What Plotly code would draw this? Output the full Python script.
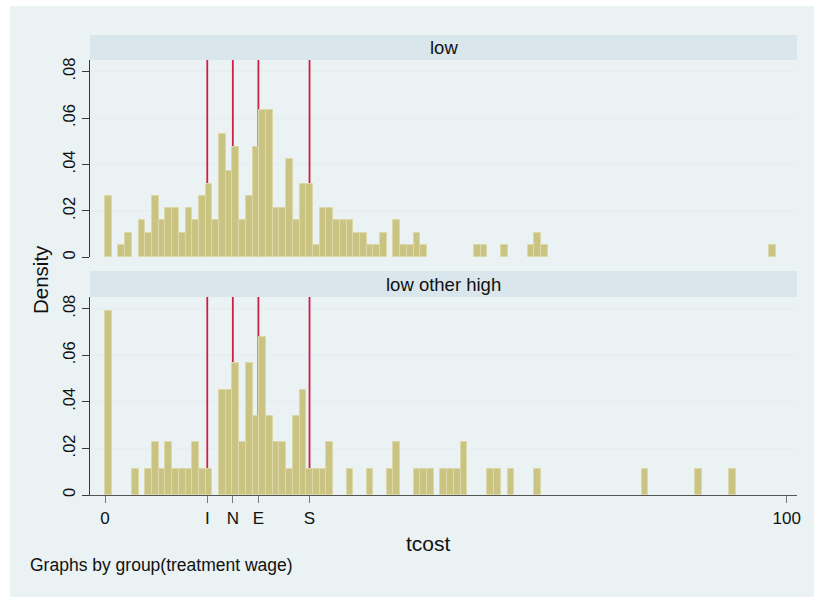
import plotly.graph_objects as go

# Histogram of tcost by treatment-wage group: 100 bins of equal width starting at 0
bin_start = 0.0
bin_width = 0.984

# Observations per bin, group "low"
counts_low = [
    5, 0, 1, 2, 0, 3, 2, 5, 3, 4, 4, 2, 4, 3, 5, 6, 3, 10, 7, 9,
    3, 5, 9, 12, 12, 4, 4, 8, 3, 6, 6, 1, 4, 4, 3, 3, 3, 2, 2, 1,
    1, 2, 0, 3, 1, 1, 2, 1, 0, 0, 0, 0, 0, 0, 0, 1, 1, 0, 0, 1,
    0, 0, 0, 1, 2, 1, 0, 0, 0, 0, 0, 0, 0, 0, 0, 0, 0, 0, 0, 0,
    0, 0, 0, 0, 0, 0, 0, 0, 0, 0, 0, 0, 0, 0, 0, 0, 0, 0, 0, 1,
]

# Observations per bin, group "low other high"
counts_high = [
    7, 0, 0, 0, 1, 0, 1, 2, 1, 2, 1, 1, 1, 2, 1, 1, 0, 4, 4, 5,
    2, 5, 3, 6, 3, 2, 2, 1, 3, 4, 1, 1, 1, 2, 0, 0, 1, 0, 0, 1,
    0, 0, 1, 2, 0, 0, 1, 1, 1, 0, 1, 1, 1, 2, 0, 0, 0, 1, 1, 0,
    1, 0, 0, 0, 1, 0, 0, 0, 0, 0, 0, 0, 0, 0, 0, 0, 0, 0, 0, 0,
    1, 0, 0, 0, 0, 0, 0, 0, 1, 0, 0, 0, 0, 1, 0, 0, 0, 0, 0, 0,
]

group_names = ["low", "low other high"]

# Reference cost levels marked with vertical lines
ref_labels = ["I", "N", "E", "S"]
ref_values = [15, 18.75, 22.5, 30]

x_ticks = [0] + ref_values + [100]
x_ticktext = ["0"] + ref_labels + ["100"]
y_ticks = [0, 0.02, 0.04, 0.06, 0.08]
y_ticktext = ["0", ".02", ".04", ".06", ".08"]

FONT = "Liberation Sans, Arial, sans-serif"
OUTER_BG = "#eaf2f3"
STRIP_BG = "#d9e6eb"
GRID = "#e6eef1"
BAR_FILL = "#cbc382"
BAR_EDGE = "#dcd8a9"
REF_LINE = "#cc1f45"
AXIS = "#3a3a3a"

W, H = 814, 597
M_L, M_R, M_T, M_B = 90, 17, 35, 102
plot_h = H - M_T - M_B
plot_w = W - M_L - M_R

x_range = [-2.2, 101.5]
y_range = [0, 0.085]


def py(px_y):
    """pixel row -> paper y"""
    return (H - M_B - px_y) / plot_h


def px(px_x):
    """pixel column -> paper x"""
    return (px_x - M_L) / plot_w


def density(counts):
    n = sum(counts)
    return [c / (n * bin_width) if c > 0 else None for c in counts]


centers = [bin_start + (i + 0.5) * bin_width for i in range(len(counts_low))]

top_dom = [py(257.3), py(60)]
bot_dom = [0, py(297)]

fig = go.Figure()
for counts, xa, ya in [(counts_low, "x", "y"), (counts_high, "x2", "y2")]:
    fig.add_trace(go.Bar(
        x=centers, y=density(counts), width=bin_width,
        xaxis=xa, yaxis=ya,
        marker=dict(color=BAR_FILL, line=dict(color=BAR_EDGE, width=1)),
        showlegend=False, hoverinfo="x+y",
    ))

shapes = []
# outer graph region
shapes.append(dict(type="rect", xref="paper", yref="paper",
                   x0=px(-50), x1=px(W + 50), y0=py(H + 50), y1=py(-50),
                   fillcolor="white", line=dict(width=0), layer="below"))
shapes.append(dict(type="rect", xref="paper", yref="paper",
                   x0=px(10), x1=px(W + 50), y0=py(H + 50), y1=py(6),
                   fillcolor=OUTER_BG, line=dict(width=0), layer="below"))
# strip headers
for y0, y1 in [(py(60), py(35)), (py(297), py(271))]:
    shapes.append(dict(type="rect", xref="paper", yref="paper",
                       x0=0, x1=1, y0=y0, y1=y1,
                       fillcolor=STRIP_BG, line=dict(width=0), layer="below"))
for xa, ya in [("x", "y"), ("x2", "y2")]:
    # horizontal grid
    for t in y_ticks[1:]:
        shapes.append(dict(type="line", xref=xa + " domain", yref=ya,
                           x0=0, x1=1, y0=t, y1=t,
                           line=dict(color=GRID, width=1.5), layer="below"))
    # reference lines, above the grid and underneath the bars
    for v in ref_values:
        shapes.append(dict(type="line", xref=xa, yref=ya, x0=v, x1=v,
                           y0=y_range[0], y1=y_range[1],
                           line=dict(color=REF_LINE, width=1.8), layer="below"))

annotations = [
    dict(text=group_names[0], xref="paper", yref="paper", x=0.5, y=py(47.5),
         showarrow=False, font=dict(family=FONT, size=18.5, color="#111"),
         xanchor="center", yanchor="middle"),
    dict(text=group_names[1], xref="paper", yref="paper", x=0.5, y=py(284),
         showarrow=False, font=dict(family=FONT, size=18.5, color="#111"),
         xanchor="center", yanchor="middle"),
    dict(text="Density", xref="paper", yref="paper", x=px(40), y=py(280),
         showarrow=False, textangle=-90, font=dict(family=FONT, size=20.5, color="#111"),
         xanchor="center", yanchor="middle"),
    dict(text="tcost", xref="paper", yref="paper", x=px(428), y=py(543),
         showarrow=False, font=dict(family=FONT, size=21, color="#111"),
         xanchor="center", yanchor="middle"),
    dict(text="Graphs by group(treatment wage)", xref="paper", yref="paper",
         x=px(28), y=py(565), showarrow=False,
         font=dict(family=FONT, size=17.5, color="#111"),
         xanchor="left", yanchor="middle"),
]

yaxis_common = dict(
    range=y_range, tickvals=y_ticks, ticktext=y_ticktext, tickangle=-90,
    showgrid=False, zeroline=False,
    showline=True, linecolor=AXIS, linewidth=1.2,
    ticks="outside", ticklen=7, tickcolor=AXIS, tickwidth=1,
    tickfont=dict(family=FONT, size=16.5, color="#111"),
)

fig.update_layout(
    width=W, height=H,
    margin=dict(l=M_L, r=M_R, t=M_T, b=M_B),
    paper_bgcolor=OUTER_BG, plot_bgcolor="white",
    bargap=0, barmode="overlay",
    shapes=shapes, annotations=annotations,
    xaxis=dict(domain=[0, 1], range=x_range, anchor="y",
               showticklabels=False, ticks="", showgrid=False,
               zeroline=False, showline=False),
    xaxis2=dict(domain=[0, 1], range=x_range, anchor="y2",
                tickvals=x_ticks, ticktext=x_ticktext,
                showgrid=False, zeroline=False,
                showline=True, linecolor="#555", linewidth=1.2,
                ticks="outside", ticklen=7, tickcolor="#777", tickwidth=1.2,
                tickfont=dict(family=FONT, size=17, color="#111")),
    yaxis=dict(domain=top_dom, anchor="x", **yaxis_common),
    yaxis2=dict(domain=bot_dom, anchor="x2", **yaxis_common),
    font=dict(family=FONT),
)

fig.write_html("out.html")
